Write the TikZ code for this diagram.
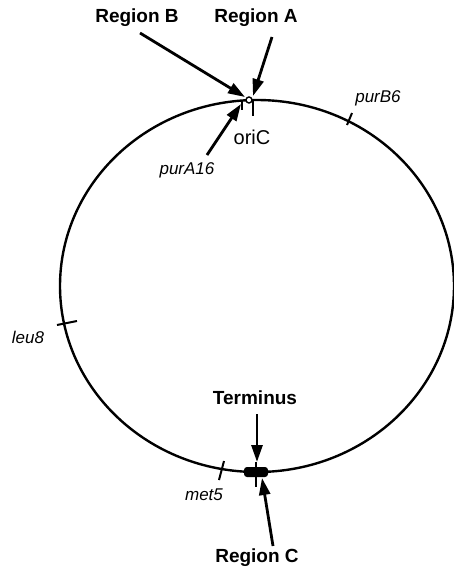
\documentclass[tikz,border=0pt]{standalone}
\usepackage{fontspec}
\setmainfont{Liberation Sans}
\usetikzlibrary{arrows.meta}
\begin{document}
\begin{tikzpicture}[x=1pt,y=-1pt,
  chrom/.style={line width=2.4pt},
  pointer/.style={line width=2.8pt,-{Triangle[length=17pt,width=11pt]}},
  tickmark/.style={line width=2pt},
  big/.style={font=\fontsize{19}{21}\selectfont\bfseries, inner sep=0pt},
  plain/.style={font=\fontsize{20}{22}\selectfont, inner sep=0pt},
  gene/.style={font=\fontsize{17}{19}\selectfont\itshape, inner sep=0pt},
]
\useasboundingbox (0,0) rectangle (454,573);
% chromosome
\draw[chrom] (257,286) ellipse [x radius=197pt, y radius=186pt];
% labels
\node[big] (regB) at (137,18) {Region B};
\node[big] (regA) at (256,18) {Region A};
\node[plain] (oric) at (252,137) {oriC};
\node[gene] (purA) at (187,170) {purA16};
\node[gene] (purB) at (378,98) {purB6};
\node[gene] (leu) at (28,337) {leu8};
\node[gene] (met) at (204,495) {met5};
\node[big] (term) at (255,398) {Terminus};
\node[big] (regC) at (257,558) {Region C};
% points on chromosome
\coordinate (pB) at (245,97);
\coordinate (pA) at (253,96);
\coordinate (pPurA) at (241,104);
\coordinate (pTerm) at (257,462);
\coordinate (pC) at (262,478);
\coordinate (tB) at (140,33);
\coordinate (tA) at (272,37);
\coordinate (tPurA) at (207,155);
\coordinate (tTerm) at (257,414);
\coordinate (tC) at (273,546);
% tick marks
\draw[tickmark] (253,100) -- (253,116);
\draw[tickmark] (242,100) -- (242,110);
\draw[tickmark] (347,125) -- (352,113);
\draw[tickmark] (57,325) -- (77,321);
\draw[tickmark] (219,480) -- (224,461);
\draw[tickmark] (256,462) -- (256,487);
% terminus region bar
\fill[rounded corners=3pt] (244,467) rectangle (268,477);
% oriC small circle
\draw[line width=1.4pt, fill=white] (249,100) circle [radius=3pt];
% arrows
\draw[pointer] (tB) -- (pB);
\draw[pointer] (tA) -- (pA);
\draw[pointer] (tPurA) -- (pPurA);
\draw[pointer] (tTerm) -- (pTerm);
\draw[pointer] (tC) -- (pC);
\end{tikzpicture}
\end{document}
